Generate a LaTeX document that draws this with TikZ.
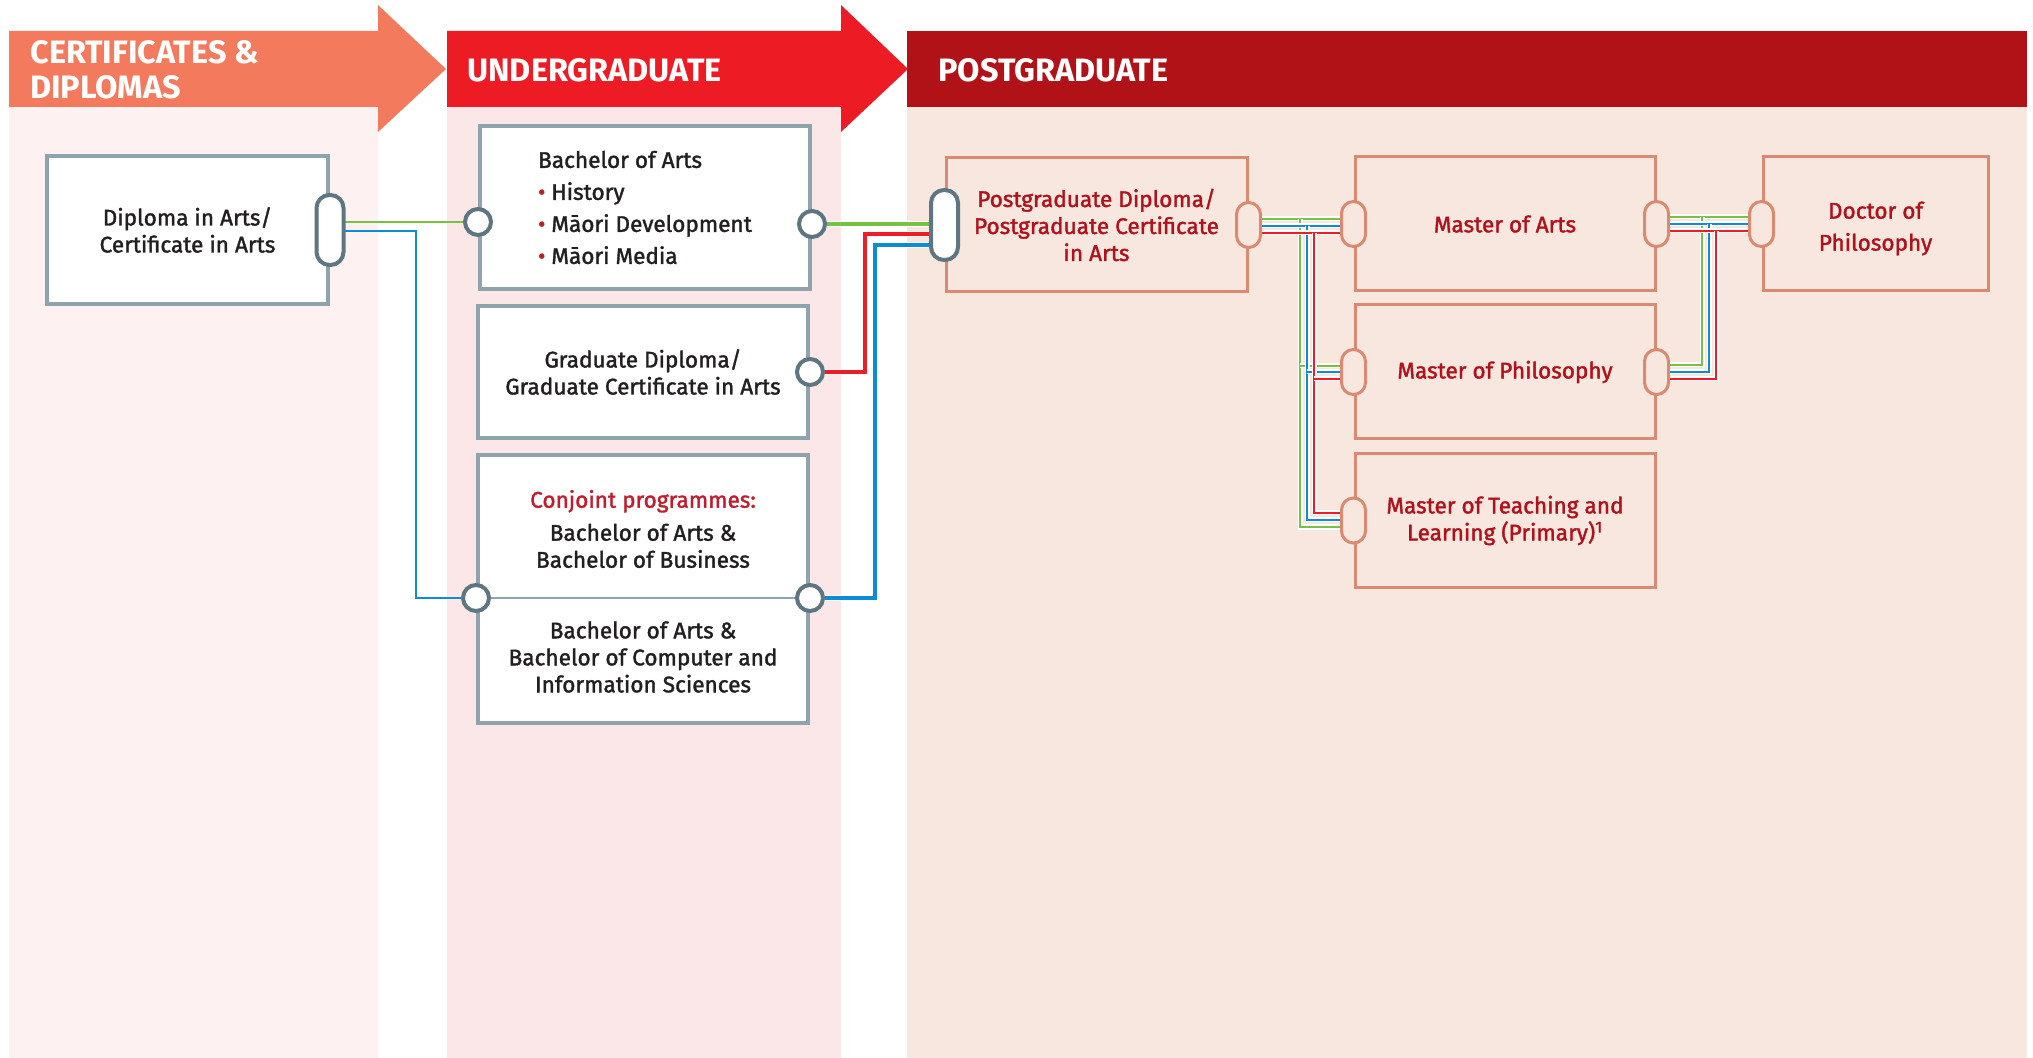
\documentclass[tikz,border=0pt]{standalone}
\usepackage{fontspec}
\setmainfont{Fira Sans}
\newfontfamily\medfont{Fira Sans}[FakeBold=1.6]
\usepackage{tikz}
\usetikzlibrary{calc}

\definecolor{certhead}{HTML}{F37A5D}
\definecolor{ughead}{HTML}{ED1C24}
\definecolor{pghead}{HTML}{B01218}
\definecolor{certbg}{HTML}{FDF2F1}
\definecolor{ugbg}{HTML}{FBE7E7}
\definecolor{pgbg}{HTML}{F7E7DF}
\definecolor{ugline}{HTML}{8FA3AD}
\definecolor{dotline}{HTML}{5E7682}
\definecolor{pgline}{HTML}{D98A70}
\definecolor{pgtext}{HTML}{B0121B}
\definecolor{bulred}{HTML}{BE1E2D}
\definecolor{bodytext}{HTML}{231F20}
\definecolor{lgreen}{HTML}{78C143}
\definecolor{lblue}{HTML}{0C8CD6}
\definecolor{lred}{HTML}{EE1D25}

\pgfdeclarelayer{colbg}
\pgfdeclarelayer{links}
\pgfsetlayers{colbg,links,main}

\tikzset{
  headtext/.style={text=white, font=\bfseries\fontsize{16.2}{17.5}\selectfont, align=left, inner sep=0pt, anchor=west},
  ugbox/.style={draw=ugline, line width=2pt, fill=white, inner sep=0pt, minimum width=165pt,
    text=bodytext, align=center, font=\medfont\fontsize{11.3}{13.5}\selectfont},
  ugtext/.style={text=bodytext, align=center, inner sep=0pt, font=\medfont\fontsize{11.3}{13.5}\selectfont},
  pgbox/.style={draw=pgline, line width=1.5pt, inner sep=0pt, minimum height=67pt,
    text=pgtext, align=center, font=\medfont\fontsize{11.3}{13.5}\selectfont},
  ugdot/.style={circle, draw=dotline, line width=2pt, fill=white, minimum size=13pt, inner sep=0pt},
  bigpill/.style={rectangle, rounded corners=6.5pt, draw=dotline, line width=2pt, fill=white,
    minimum width=13.5pt, minimum height=35pt, inner sep=0pt},
  pgpill/.style={rectangle, rounded corners=6pt, draw=pgline, line width=1.5pt, fill=pgbg,
    minimum width=12pt, minimum height=22.5pt, inner sep=0pt},
  leftlink/.style={draw=#1, line width=1.25pt},
  thicklink/.style={draw=#1, line width=2.4pt, preaction={draw=white, line width=3.4pt}},
  thinlink/.style={draw=#1, line width=1pt, preaction={draw=white, line width=2.5pt}}
}

\begin{document}
\begin{tikzpicture}[x=0.5pt,y=-0.5pt]
\useasboundingbox (0,0) rectangle (2033,1058);

\begin{pgfonlayer}{colbg}
\fill[certbg] (9,107) rectangle (378,1058);
\fill[ugbg] (447,107) rectangle (841,1058);
\fill[pgbg] (907,107) rectangle (2027,1058);
\fill[pghead] (907,31) rectangle (2027,107);
\fill[certhead] (9,31) -- (378,31) -- (378,5) -- (446,69) -- (378,132) -- (378,107) -- (9,107) -- cycle;
\fill[ughead] (447,31) -- (841,31) -- (841,5) -- (908,69) -- (841,132) -- (841,107) -- (447,107) -- cycle;
\end{pgfonlayer}

\node[headtext] (certlabel) at (30,70) {CERTIFICATES \&\\DIPLOMAS};
\node[headtext] (uglabel) at (467,70) {UNDERGRADUATE};
\node[headtext] (pglabel) at (938,70) {POSTGRADUATE};

\node[ugbox, minimum width=140.5pt, minimum height=74pt] (dip) at (187.5,230) {Diploma in Arts/\\Certificate in Arts};
\node[ugbox, minimum height=81.5pt, align=left, font=\medfont\fontsize{11.3}{16}\selectfont] (ba) at (645,207.5)
  {Bachelor of Arts\\{\color{bulred}•} History\\{\color{bulred}•} Māori Development\\{\color{bulred}•} Māori Media};
\node[ugbox, minimum height=66pt] (gd) at (643,372) {Graduate Diploma/\\Graduate Certificate in Arts};
\node[ugbox, minimum height=134pt] (cj) at (643,589) {};
\draw[ugline, line width=1pt] (cj.west |- 0,598) -- (cj.east |- 0,598);
\node[ugtext] (cjtop) at (643,529) {\textcolor{bulred}{Conjoint programmes:}\\[3pt]Bachelor of Arts \&\\Bachelor of Business};
\node[ugtext] (cjbot) at (643,657) {Bachelor of Arts \&\\Bachelor of Computer and\\Information Sciences};

\node[pgbox, minimum width=150.5pt] (pgd) at (1096.5,225) {Postgraduate Diploma/\\Postgraduate Certificate\\in Arts};
\node[pgbox, minimum width=150pt] (ma) at (1505,224) {Master of Arts};
\node[pgbox, minimum width=112.5pt, font=\medfont\fontsize{11.3}{16}\selectfont] (dr) at (1875.5,224) {\\[-3pt]Doctor of\\Philosophy};
\node[pgbox, minimum width=150pt] (mphil) at (1505,372) {Master of Philosophy};
\node[pgbox, minimum width=150pt] (mtl) at (1505,520.5) {Master of Teaching and\\Learning (Primary)\textsuperscript{1}};

\node[bigpill] (dipR) at (dip.east) {};
\node[ugdot] (baL) at (ba.west |- 0,222) {};
\node[ugdot] (baR) at (ba.east |- 0,224) {};
\node[ugdot] (gdR) at (gd.east) {};
\node[ugdot] (cjL) at (cj.west |- 0,598) {};
\node[ugdot] (cjR) at (cj.east |- 0,598) {};
\node[bigpill] (pgdL) at (pgd.west) {};
\node[pgpill] (pgdR) at (pgd.east) {};
\node[pgpill] (maL) at (ma.west) {};
\node[pgpill] (maR) at (ma.east) {};
\node[pgpill] (drL) at (dr.west) {};
\node[pgpill] (mphilL) at (mphil.west) {};
\node[pgpill] (mphilR) at (mphil.east) {};
\node[pgpill] (mtlL) at (mtl.west) {};

\begin{pgfonlayer}{links}
\draw[leftlink=lgreen] (dipR |- baL) -- (baL);
\draw[leftlink=lblue] (dipR |- 0,231) -- (416,231) |- (cjL);
\draw[thicklink=lgreen] (baR) -- (pgdL |- baR);
\draw[thicklink=lred] (gdR) -| (865,234) -- (pgdL |- 0,234);
\draw[thicklink=lblue] (cjR) -| (875,245) -- (pgdL |- 0,245);
\foreach \col/\ya/\xa/\yb/\yc in {lgreen/219/1300/366/527, lblue/226/1307/372/520, lred/233/1314/379/513} {
  \draw[thinlink=\col] (pgdR |- 0,\ya) -- (maL |- 0,\ya);
  \draw[thinlink=\col] (\xa,\ya) |- (mtlL |- 0,\yc);
  \draw[thinlink=\col] (\xa,\yb) -- (mphilL |- 0,\yb);
}
\foreach \col/\ya/\xa/\yb in {lgreen/217/1702/365, lblue/224/1709/372, lred/231/1716/379} {
  \draw[thinlink=\col] (maR |- 0,\ya) -- (drL |- 0,\ya);
  \draw[thinlink=\col] (\xa,\ya) |- (mphilR |- 0,\yb);
}
\end{pgfonlayer}
\end{tikzpicture}
\end{document}
